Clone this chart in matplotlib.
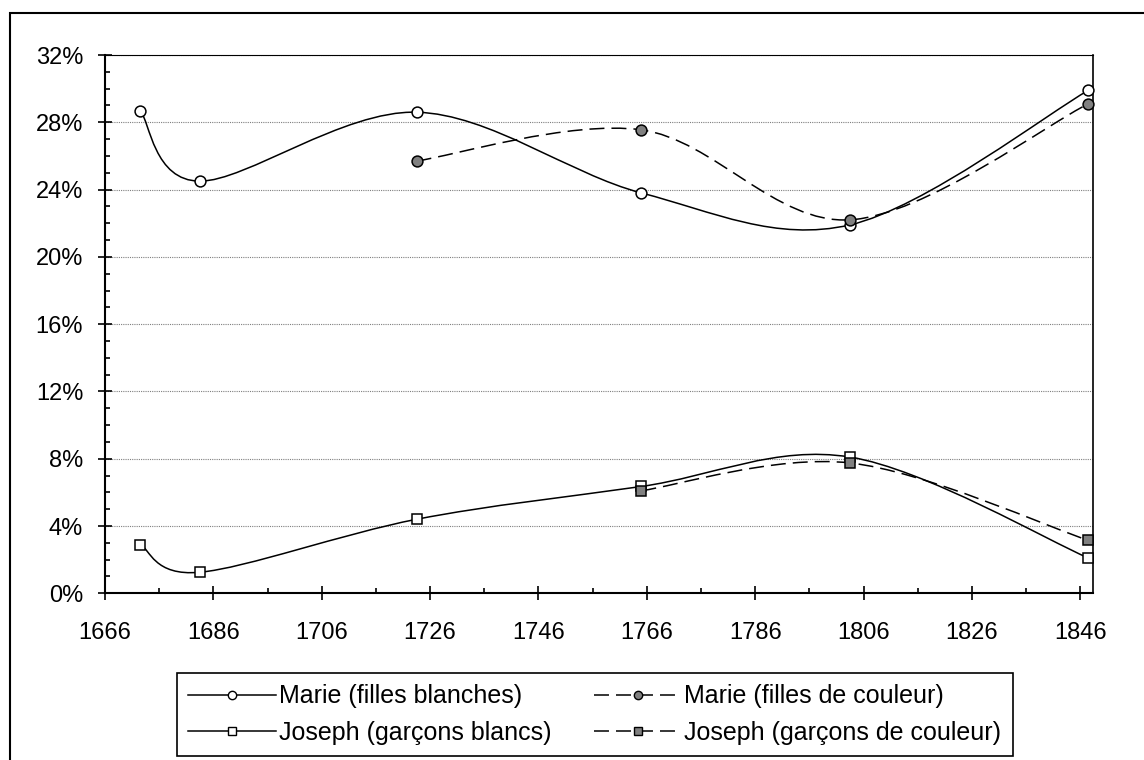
import numpy as np
import matplotlib
matplotlib.use("Agg")
import matplotlib.pyplot as plt
from matplotlib.path import Path
from matplotlib.patches import PathPatch, Rectangle
from matplotlib.lines import Line2D
from matplotlib.ticker import FixedLocator, MultipleLocator, FuncFormatter

plt.rcParams['font.family'] = ['Liberation Sans', 'DejaVu Sans']

# === Données ===
annees = [1672.5, 1683.5, 1723.5, 1765, 1803.5, 1847.5]
annees_filles_couleur = [1723.5, 1765, 1803.5, 1847.5]
annees_garcons_couleur = [1765, 1803.5, 1847.5]

marie_blanches = [28.7, 24.5, 28.6, 23.8, 21.9, 29.9]
marie_couleur = [25.7, 27.55, 22.2, 29.1]
joseph_blancs = [2.9, 1.25, 4.4, 6.35, 8.1, 2.1]
joseph_couleur = [6.1, 7.75, 3.15]

labels = ["Marie (filles blanches)", "Joseph (garçons blancs)",
          "Marie (filles de couleur)", "Joseph (garçons de couleur)"]

ticks_annees = [1666, 1686, 1706, 1726, 1746, 1766, 1786, 1806, 1826, 1846]
ticks_mineurs = [1676, 1696, 1716, 1736, 1756, 1776, 1796, 1816, 1836]

GRIS = '#808080'
DASH = (0, (9.8, 4.6))


def smooth_path(xs, ys):
    # courbe lissée façon Excel (Bezier / Catmull-Rom)
    p = np.column_stack([xs, ys]).astype(float)
    n = len(p)
    verts = [p[0]]
    codes = [Path.MOVETO]
    for i in range(n - 1):
        p0 = p[i - 1] if i > 0 else p[i]
        p3 = p[i + 2] if i + 2 < n else p[i + 1]
        c1 = p[i] + (p[i + 1] - p0) / 6
        c2 = p[i + 1] - (p3 - p[i]) / 6
        verts += [c1, c2, p[i + 1]]
        codes += [Path.CURVE4] * 3
    return Path(verts, codes)


fig = plt.figure(figsize=(11.44, 7.6), dpi=100)
ax = fig.add_axes([105 / 1144, 1 - 593.3 / 760, 987.7 / 1144, 538.3 / 760])

series = [
    (annees, marie_blanches, '-', 'o', 'white'),
    (annees_filles_couleur, marie_couleur, DASH, 'o', GRIS),
    (annees, joseph_blancs, '-', 's', 'white'),
    (annees_garcons_couleur, joseph_couleur, DASH, 's', GRIS),
]
for xs, ys, ls, mk, fc in series:
    ax.add_patch(PathPatch(smooth_path(xs, ys), fill=False, lw=1.1,
                           ls=ls, edgecolor='black', zorder=3))
    ax.plot(xs, ys, ls='none', marker=mk, ms=7.8, mfc=fc, mec='black',
            mew=1.1, zorder=5, clip_on=False)

ax.set_xlim(1666, 1848.3)
ax.set_ylim(0, 32)
ax.xaxis.set_major_locator(FixedLocator(ticks_annees))
ax.xaxis.set_minor_locator(FixedLocator(ticks_mineurs))
ax.yaxis.set_major_locator(MultipleLocator(4))
ax.yaxis.set_minor_locator(MultipleLocator(1))
ax.yaxis.set_major_formatter(FuncFormatter(lambda v, p: f"{v:.0f}%"))
ax.xaxis.set_major_formatter(FuncFormatter(lambda v, p: f"{v:.0f}"))

ax.tick_params(which='major', direction='inout', length=9.5, width=1.2,
               labelsize=17, color='black')
ax.tick_params(axis='y', which='major', pad=11)
ax.tick_params(axis='x', which='major', pad=16)
ax.tick_params(which='minor', direction='in', length=3.3, width=1.2)

ax.grid(axis='y', which='major', color='#7f7f7f', lw=0.8, ls=(0, (1, 1)))
ax.set_axisbelow(True)

for side in ['left', 'bottom']:
    ax.spines[side].set_linewidth(1.5)
ax.spines['right'].set_linewidth(1.2)
ax.spines['top'].set_linewidth(0.8)

# === Légende ===
handles = [
    Line2D([], [], color='black', lw=1.1, ls='-', marker='o', ms=6,
           mfc='white', mec='black', mew=1.0),
    Line2D([], [], color='black', lw=1.1, ls='-', marker='s', ms=6,
           mfc='white', mec='black', mew=1.0),
    Line2D([], [], color='black', lw=1.1, ls=DASH, marker='o', ms=6,
           mfc=GRIS, mec='black', mew=1.0),
    Line2D([], [], color='black', lw=1.1, ls=DASH, marker='s', ms=6,
           mfc=GRIS, mec='black', mew=1.0),
]
leg = fig.legend(handles, labels, loc='upper left',
                 bbox_to_anchor=(177 / 1144, 1 - 673 / 760), ncol=2,
                 fontsize=18, handlelength=3.5, handletextpad=0.12,
                 columnspacing=1.7, labelspacing=0.5, borderpad=0.45,
                 borderaxespad=0, fancybox=False, framealpha=1,
                 edgecolor='black')
leg.get_frame().set_linewidth(1.2)

# cadre extérieur
fig.patches.append(Rectangle((9.5 / 1144, -0.1), 1.2, 1.1 - 13.3 / 760,
                             transform=fig.transFigure, fill=False,
                             lw=1.5, edgecolor='black', clip_on=False))

fig.savefig('out.png', dpi=100)
